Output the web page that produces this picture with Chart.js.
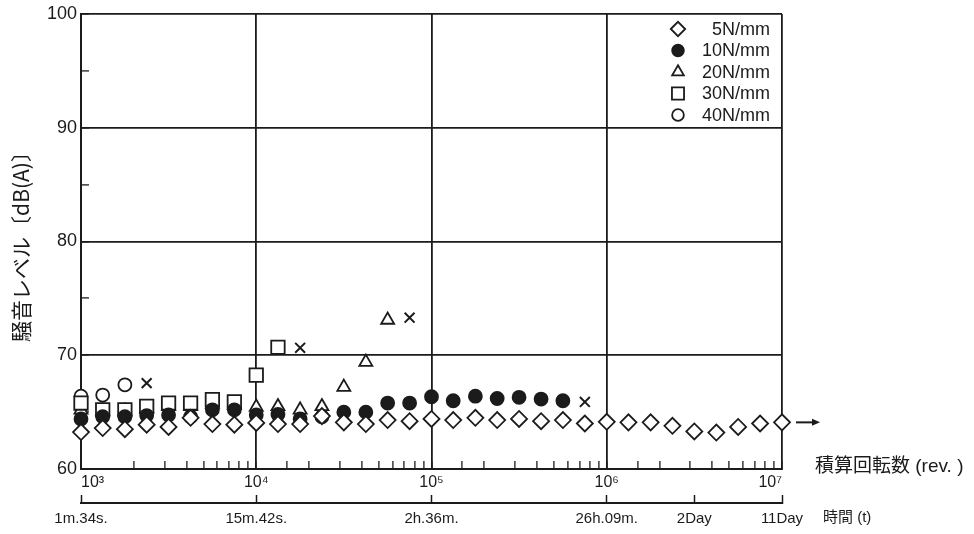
<!DOCTYPE html>
<html>
<head>
<meta charset="utf-8">
<script src="https://cdn.jsdelivr.net/npm/chart.js@4.4.0/dist/chart.umd.min.js"></script>
<style>
  html, body { margin: 0; padding: 0; background: #fff; }
  #wrap { width: 974px; height: 534px; }
</style>
</head>
<body>
<div id="wrap"><canvas id="noiseChart" width="974" height="534"></canvas></div>
<script>
// Revolution counts of the measuring points (1/8 decade apart)
const revs = [1000, 1330, 1780, 2370, 3160, 4220, 5620, 7500,
  10000, 13300, 17800, 23700, 31600, 42200, 56200, 75000,
  100000, 133000, 178000, 237000, 316000, 422000, 562000, 750000,
  1000000, 1330000, 1780000, 2370000, 3160000, 4220000, 5620000, 7500000, 10000000];

// Noise level dB(A) for each load
const load5 = [63.25, 63.6, 63.5, 63.9, 63.7, 64.5, 63.95, 63.9,
  64.05, 63.95, 63.95, 64.65, 64.1, 63.95, 64.3, 64.2,
  64.4, 64.3, 64.5, 64.3, 64.4, 64.2, 64.3, 64.0,
  64.15, 64.1, 64.1, 63.8, 63.3, 63.2, 63.7, 64.0, 64.1];
const load10 = [64.4, 64.6, 64.6, 64.7, 64.75, 64.6, 65.2, 65.2,
  64.75, 64.8, 64.4, 64.6, 65.0, 65.0, 65.8, 65.8,
  66.35, 66.0, 66.4, 66.2, 66.3, 66.15, 66.0];
const load20 = [65.2, 65.1, 65.1, 65.3, 65.5, 65.5, 65.7, 65.6,
  65.45, 65.5, 65.2, 65.5, 67.2, 69.4, 73.1];
const load30 = [65.8, 65.2, 65.2, 65.5, 65.8, 65.8, 66.1, 65.9, 68.25, 70.7];
const load40 = [66.4, 66.5, 67.4];

// Points where the test ended (x marks)
const failRevs = [2370, 17800, 75000, 750000];
const failLevels = [67.55, 70.65, 73.3, 65.9];

const seriesLabels = ['5N/mm', '10N/mm', '20N/mm', '30N/mm', '40N/mm'];
const decadeRevs = [1000, 10000, 100000, 1000000, 10000000];
const decadeLabels = ['10³', '10⁴', '10⁵', '10⁶', '10⁷'];
const timeRevs = [1000, 10000, 100000, 1000000, 3160000, 10000000];
const timeLabels = ['1m.34s.', '15m.42s.', '2h.36m.', '26h.09m.', '2Day', '11Day'];

const INK = '#1b1b1b';
const FONT = '"Liberation Sans", Arial, "Noto Sans CJK JP", sans-serif';
const CJK = '"Noto Sans CJK JP", sans-serif';

function points(values) {
  return values.map((v, i) => ({ x: revs[i], y: v }));
}

function isDecade(v) {
  const l = Math.log10(v);
  return Math.abs(l - Math.round(l)) < 1e-6;
}

function marker(label, data, style, radius, fill, order) {
  return {
    label: label,
    data: data,
    pointStyle: style,
    pointRadius: radius,
    pointBorderColor: INK,
    pointBackgroundColor: fill,
    pointBorderWidth: 1.8,
    showLine: false,
    clip: false,
    order: order,
    inLegend: true
  };
}

const datasets = [
  marker(seriesLabels[0], points(load5), 'rectRot', 8, '#fff', 0),
  marker(seriesLabels[1], points(load10), 'circle', 6.5, INK, 1),
  marker(seriesLabels[2], points(load20), 'triangle', 7.5, '#fff', 3),
  marker(seriesLabels[3], points(load30), 'rect', 9.5, '#fff', 2),
  marker(seriesLabels[4], points(load40), 'circle', 6.5, '#fff', 4),
  {
    label: '',
    data: failRevs.map((r, i) => ({ x: r, y: failLevels[i] })),
    pointStyle: 'crossRot',
    pointRadius: 7,
    pointBorderColor: INK,
    pointBorderWidth: 2,
    showLine: false,
    clip: false,
    order: 5,
    inLegend: false
  }
];

// Legend box in the upper right corner of the plot
const boxLegend = {
  id: 'boxLegend',
  afterDatasetsDraw(chart) {
    const { ctx, chartArea } = chart;
    const items = chart.data.datasets.filter(d => d.inLegend);
    ctx.save();
    ctx.font = '18px ' + FONT;
    ctx.textAlign = 'right';
    ctx.textBaseline = 'middle';
    items.forEach((d, i) => {
      const y = chartArea.top + 15 + i * 21.5;
      ctx.fillStyle = d.pointBackgroundColor;
      ctx.strokeStyle = INK;
      ctx.lineWidth = 1.8;
      Chart.helpers.drawPoint(ctx, {
        pointStyle: d.pointStyle,
        radius: d.pointRadius * 0.9,
        borderWidth: 1.8,
        rotation: 0
      }, chartArea.right - 104, y);
      ctx.fillStyle = INK;
      ctx.fillText(d.label, chartArea.right - 12, y + 1);
    });
    ctx.restore();
  }
};

// Axis captions at the right end and the arrow after the last point
const extras = {
  id: 'extras',
  afterDraw(chart) {
    const { ctx, chartArea, scales } = chart;
    ctx.save();
    ctx.fillStyle = INK;
    ctx.textAlign = 'left';
    ctx.textBaseline = 'middle';
    ctx.font = '19px ' + FONT;
    ctx.fillText('積算回転数 (rev. )', chartArea.right + 33, chartArea.bottom - 2);
    ctx.font = '15px ' + FONT;
    ctx.fillText('時間 (t)', chartArea.right + 41, scales.x2.top + 15);

    const ay = scales.y.getPixelForValue(load5[load5.length - 1]);
    const ax0 = chartArea.right + 14, ax1 = chartArea.right + 38;
    ctx.strokeStyle = INK;
    ctx.lineWidth = 2;
    ctx.beginPath();
    ctx.moveTo(ax0, ay);
    ctx.lineTo(ax1 - 6, ay);
    ctx.stroke();
    ctx.beginPath();
    ctx.moveTo(ax1, ay);
    ctx.lineTo(ax1 - 8, ay - 3.5);
    ctx.lineTo(ax1 - 8, ay + 3.5);
    ctx.closePath();
    ctx.fill();
    ctx.restore();
  }
};

new Chart(document.getElementById('noiseChart'), {
  type: 'scatter',
  data: { datasets: datasets },
  plugins: [boxLegend, extras],
  options: {
    responsive: false,
    animation: false,
    events: [],
    layout: { padding: { top: 14, right: 192, bottom: 0, left: 0 } },
    plugins: {
      legend: { display: false },
      tooltip: { enabled: false }
    },
    scales: {
      x: {
        type: 'logarithmic',
        position: 'bottom',
        min: 1000,
        max: 10000000,
        weight: 0,
        afterFit: s => { s.height = 34; },
        border: { color: INK, width: 2 },
        grid: {
          color: c => (c.tick && isDecade(c.tick.value)) ? INK : 'rgba(0,0,0,0)',
          lineWidth: 1.8,
          tickColor: INK,
          tickLength: -8,
          tickWidth: 1.3
        },
        ticks: {
          autoSkip: false,
          maxRotation: 0,
          align: 'inner',
          padding: 12,
          color: INK,
          font: { family: FONT, size: 16 },
          callback: v => {
            const i = decadeRevs.findIndex(d => Math.abs(d - v) < 1e-6 * d);
            return i >= 0 ? decadeLabels[i] : '';
          }
        }
      },
      x2: {
        type: 'logarithmic',
        position: 'bottom',
        min: 1000,
        max: 10000000,
        weight: 1,
        afterFit: s => { s.height = 31; },
        afterBuildTicks: s => { s.ticks = timeRevs.map(v => ({ value: v })); },
        border: { color: INK, width: 2 },
        grid: {
          drawOnChartArea: false,
          color: INK,
          tickColor: INK,
          tickLength: -8,
          tickWidth: 1.5
        },
        ticks: {
          autoSkip: false,
          maxRotation: 0,
          padding: 15,
          color: INK,
          font: { family: FONT, size: 15 },
          callback: (v, i) => timeLabels[i]
        }
      },
      y: {
        type: 'linear',
        min: 60,
        max: 100,
        afterFit: s => { s.width = 81; s.paddingTop = 0; s.paddingBottom = 0; },
        border: { color: INK, width: 2 },
        grid: {
          color: c => (c.tick && c.tick.value % 10 === 0) ? INK : 'rgba(0,0,0,0)',
          lineWidth: 1.8,
          tickColor: INK,
          tickLength: -8,
          tickWidth: 1.3
        },
        ticks: {
          stepSize: 5,
          padding: 12,
          color: INK,
          font: { family: FONT, size: 18 },
          callback: v => (v % 10 === 0 ? String(v) : '')
        },
        title: {
          display: true,
          text: '騒音レベル〔dB(A)〕',
          color: INK,
          font: { family: CJK, size: 21 },
          padding: { top: 8, bottom: 0 }
        }
      }
    }
  }
});
</script>
</body>
</html>
